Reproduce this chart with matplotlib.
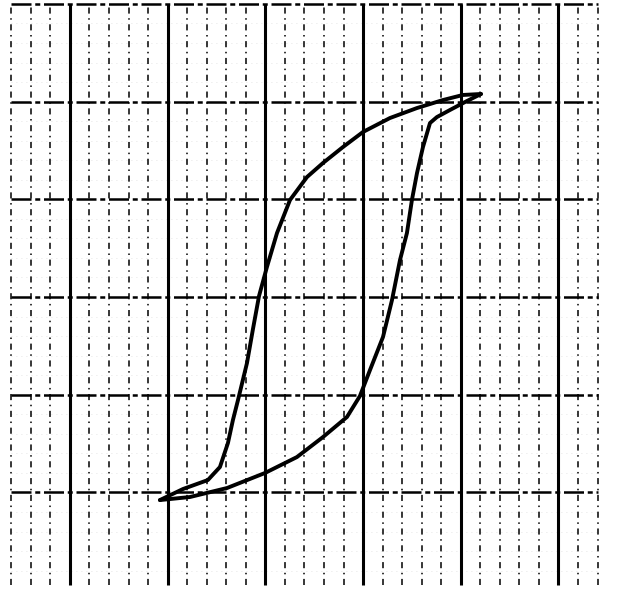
import numpy as np
import matplotlib.pyplot as plt

# hysteresis loop (grid divisions)
left_x = [0.921, 1.157, 1.412, 1.535, 1.617, 1.668, 1.720, 1.812, 1.873, 1.935, 2.016,
          2.119, 2.252, 2.426, 2.590, 2.794, 2.999, 3.275, 3.551, 3.817, 4.022, 4.207]
left_y = [-2.078, -1.965, -1.873, -1.740, -1.494, -1.259, -1.054, -0.675, -0.328, 0.010, 0.307,
          0.655, 0.993, 1.228, 1.372, 1.535, 1.689, 1.832, 1.934, 2.016, 2.068, 2.078]

right_x = [0.921, 1.228, 1.607, 1.996, 2.323, 2.590, 2.835, 2.968, 3.071, 3.204, 3.296, 3.378,
           3.449, 3.500, 3.552, 3.613, 3.685, 3.756, 3.889, 4.063, 4.207]
right_y = [-2.078, -2.047, -1.955, -1.801, -1.638, -1.433, -1.228, -1.013, -0.747, -0.409, -0.031, 0.379,
           0.655, 0.993, 1.269, 1.535, 1.781, 1.842, 1.914, 2.006, 2.078]

major_x = [0, 1, 2, 3, 4, 5]
minor_x = [round(v, 1) for v in np.arange(-0.6, 5.41, 0.2) if abs(v - round(v)) > 0.05]
major_y = [-2, -1, 0, 1, 2, 3]
minor_y = [round(v, 1) for v in np.arange(-2.8, 2.9, 0.2) if abs(v - round(v)) > 0.05]

fig = plt.figure(figsize=(6.17, 5.96), dpi=100)
ax = fig.add_axes([0, 0, 1, 1])
ax.set_xlim(-0.716, 5.599)
ax.set_ylim(-3.06, 3.04)
ax.axis('off')

y_lo, y_hi = -2.95, 3.0
x_lo, x_hi = -0.6, 5.4

# faint minor horizontals
ax.hlines(minor_y, x_lo, x_hi, colors='#dddddd', lw=0.6, linestyles=(0, (1, 5)))
# minor verticals
ax.vlines(minor_x, y_lo, y_hi, colors='black', lw=1.1, linestyles=(0, (4, 3, 1, 3)))
# major horizontals
ax.hlines(major_y, x_lo, x_hi, colors='black', lw=1.8, linestyles=(0, (8, 1.5, 2, 1.5)))
# major verticals
ax.vlines(major_x, y_lo, y_hi, colors='black', lw=2.2)

ax.plot(left_x, left_y, color='black', lw=2.8, solid_capstyle='round', solid_joinstyle='round')
ax.plot(right_x, right_y, color='black', lw=2.8, solid_capstyle='round', solid_joinstyle='round')

plt.savefig('out.png', dpi=100)
